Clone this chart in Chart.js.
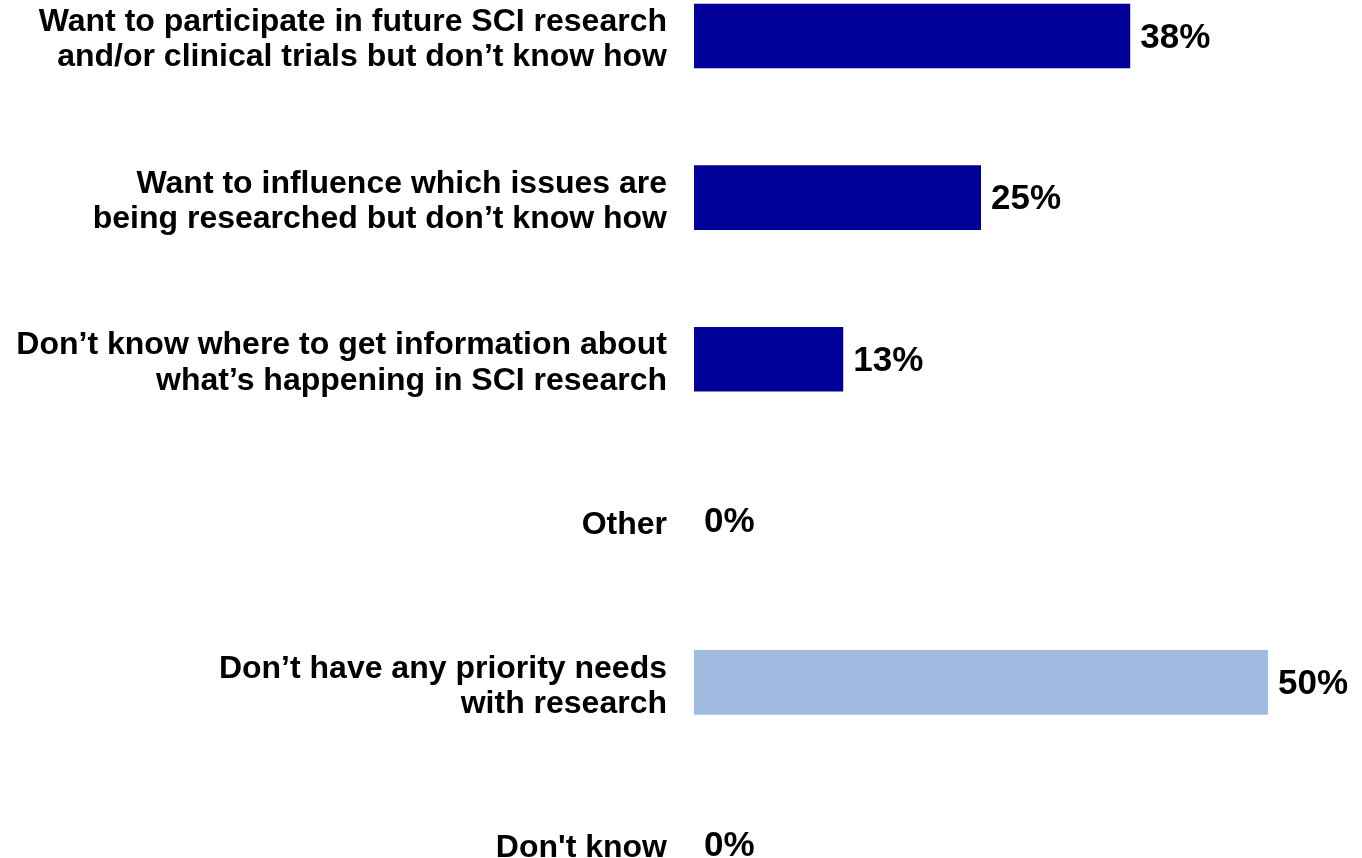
<!DOCTYPE html>
<html>
<head>
<meta charset="utf-8">
<script src="https://cdn.jsdelivr.net/npm/chart.js@4/dist/chart.umd.min.js"></script>
<style>
  html, body { margin: 0; padding: 0; background: #fff; }
  #wrap { width: 1362px; height: 858px; position: relative; }
</style>
</head>
<body>
<div id="wrap"><canvas id="barChart"></canvas></div>
<script>
// kategorie (linie rozbite jak w oryginale)
const categories = [
    ['Want to participate in future SCI research', 'and/or clinical trials but don\u2019t know how'],
    ['Want to influence which issues are', 'being researched but don\u2019t know how'],
    ['Don\u2019t know where to get information about', 'what\u2019s happening in SCI research'],
    'Other',
    ['Don\u2019t have any priority needs', 'with research'],
    'Don\'t know'
];
const values = [38, 25, 13, 0, 50, 0];
const barColors = ['#000099', '#000099', '#000099', '#000099', '#9FBBE0', '#000099'];

// podpisy z wartosciami obok slupkow
const valueLabels = {
    id: 'valueLabels',
    afterDatasetsDraw(chart) {
        const ctx = chart.ctx;
        const meta = chart.getDatasetMeta(0);
        ctx.save();
        ctx.font = 'bold 35px "Liberation Sans", Arial, sans-serif';
        ctx.fillStyle = '#000';
        ctx.textAlign = 'left';
        ctx.textBaseline = 'middle';
        meta.data.forEach((bar, i) => {
            ctx.fillText(values[i] + '%', bar.x + 10, bar.y + 2);
        });
        ctx.restore();
    }
};

const ctx = document.getElementById('barChart').getContext('2d');
new Chart(ctx, {
    type: 'bar',
    data: {
        labels: categories,
        datasets: [{
            data: values,
            backgroundColor: barColors,
            borderWidth: 0,
            categoryPercentage: 1,
            barPercentage: 0.4,
            clip: false
        }]
    },
    options: {
        indexAxis: 'y',
        responsive: true,
        maintainAspectRatio: false,
        animation: false,
        layout: { padding: { top: 36, bottom: 14, left: 0, right: 94 } },
        plugins: {
            legend: { display: false },
            tooltip: { enabled: false }
        },
        scales: {
            x: {
                display: false,
                min: 0,
                max: 50
            },
            y: {
                offset: false,
                grid: { display: false, drawTicks: false },
                border: { display: false },
                ticks: {
                    padding: 27,
                    labelOffset: 4,
                    color: '#000',
                    font: { family: '"Liberation Sans", Arial, sans-serif', size: 32, weight: 'bold', lineHeight: 1.1 }
                },
                afterFit(scale) {
                    scale.width = 694;
                    scale.paddingTop = 0;
                    scale.paddingBottom = 0;
                }
            }
        }
    },
    plugins: [valueLabels]
});
</script>
</body>
</html>
